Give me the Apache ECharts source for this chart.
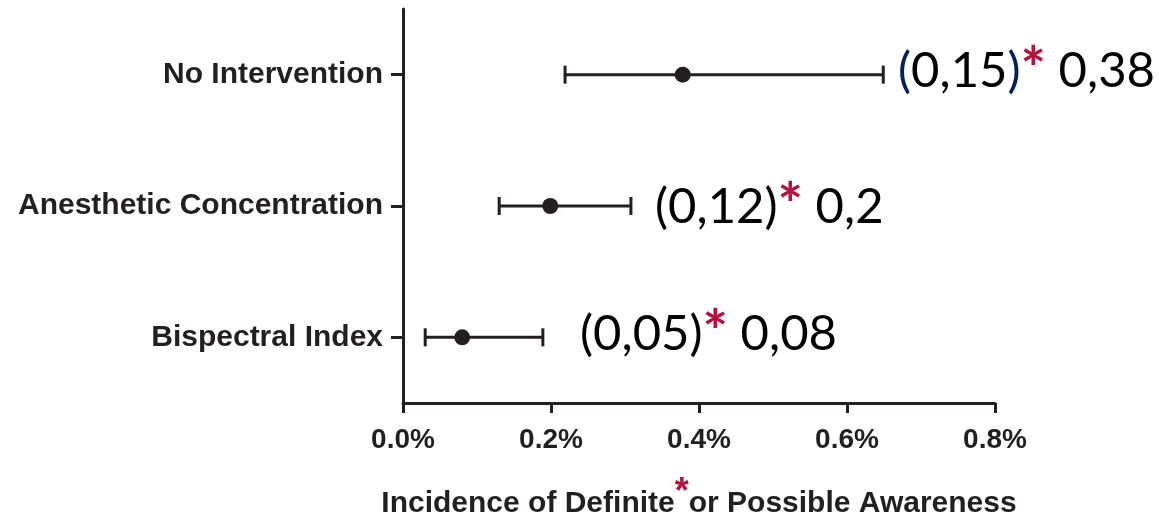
<!DOCTYPE html>
<html>
<head>
<meta charset="utf-8">
<script src="https://cdn.jsdelivr.net/npm/echarts@6/dist/echarts.min.js"></script>
<style>
html,body{margin:0;padding:0;background:#fff;}
#chart{width:1159px;height:521px;}
</style>
</head>
<body>
<div id="chart"></div>
<script>
// ---- data ----
const categories = ['No Intervention', 'Anesthetic Concentration', 'Bispectral Index'];
const pointValues = [0.378, 0.199, 0.080];   // incidence, %
const lowerValues = [0.219, 0.130, 0.030];   // lower CI, %
const upperValues = [0.649, 0.308, 0.189];   // upper CI, %
const xTicks = [0.0, 0.2, 0.4, 0.6, 0.8];
const annotCI = ['0,15', '0,12', '0,05'];
const annotVal = ['0,38', '0,2', '0,08'];

const ink = '#231f20';
const navy = '#002060';
const crimson = '#b5123e';

const chart = echarts.init(document.getElementById('chart'), null, {renderer: 'canvas'});

const errData = categories.map((c, i) => [lowerValues[i], upperValues[i], i]);
const ptData = categories.map((c, i) => [pointValues[i], i]);

// annotation layout (text only)
const annotPos = [
  {left: 898, y: 71, blue: true},
  {left: 655, y: 207, blue: false},
  {left: 580, y: 334, blue: false}
];

const graphics = annotPos.map((p, i) => ({
  type: 'text',
  left: p.left,
  top: p.y - 30,
  style: {
    text: (p.blue ? '{b|(}' : '{k|(}') + '{k|' + annotCI[i] + '}' + (p.blue ? '{b|)}' : '{k|)}') + '{s|*}{k| ' + annotVal[i] + '}',
    rich: {
      k: {fill: '#000', fontSize: 49, fontFamily: 'Lato', lineHeight: 60},
      b: {fill: navy, fontSize: 49, fontFamily: 'Lato', lineHeight: 60},
      s: {fill: crimson, fontSize: 60, fontWeight: 'bold', fontFamily: 'Lato', lineHeight: 60}
    }
  }
}));

chart.setOption({
  animation: false,
  backgroundColor: '#fff',
  grid: {left: 403, right: 164, top: 9, bottom: 118, containLabel: false, outerBoundsMode: 'none'},
  xAxis: {
    type: 'value',
    min: xTicks[0],
    max: xTicks[xTicks.length - 1],
    interval: 0.2,
    splitLine: {show: false},
    axisLine: {show: true, lineStyle: {color: ink, width: 3}},
    axisTick: {show: true, length: 10, lineStyle: {color: ink, width: 3}},
    axisLabel: {
      color: ink, fontSize: 28, fontWeight: 'bold', fontFamily: 'Liberation Sans', margin: 23,
      formatter: v => v.toFixed(1) + '%'
    },
    name: 'Incidence of Definite{a|*}or Possible Awareness',
    nameLocation: 'middle',
    nameGap: 72,
    nameTextStyle: {
      color: ink, fontSize: 30, fontWeight: 'bold', fontFamily: 'Liberation Sans',
      rich: {
        a: {color: crimson, fontSize: 36, fontWeight: 'bold', fontFamily: 'Liberation Sans', padding: [0, 0, 22, 0]}
      }
    }
  },
  yAxis: {
    type: 'category',
    data: categories,
    inverse: true,
    axisLine: {show: true, lineStyle: {color: ink, width: 3}},
    axisTick: {show: true, alignWithLabel: true, length: 12, lineStyle: {color: ink, width: 3}},
    axisLabel: {color: ink, fontSize: 30, fontWeight: 'bold', fontFamily: 'Liberation Sans', margin: 20},
    splitLine: {show: false}
  },
  graphic: graphics,
  series: [
    {
      type: 'custom',
      data: errData,
      renderItem: function (params, api) {
        const y = api.value(2);
        const p1 = api.coord([api.value(0), y]);
        const p2 = api.coord([api.value(1), y]);
        const h = 9;
        const st = {stroke: ink, lineWidth: 3, fill: null};
        return {
          type: 'group',
          children: [
            {type: 'line', shape: {x1: p1[0], y1: p1[1], x2: p2[0], y2: p2[1]}, style: st},
            {type: 'line', shape: {x1: p1[0], y1: p1[1] - h, x2: p1[0], y2: p1[1] + h}, style: st},
            {type: 'line', shape: {x1: p2[0], y1: p2[1] - h, x2: p2[0], y2: p2[1] + h}, style: st}
          ]
        };
      },
      z: 2
    },
    {
      type: 'scatter',
      data: ptData,
      symbol: 'circle',
      symbolSize: 16,
      itemStyle: {color: ink, opacity: 1},
      z: 3
    }
  ]
});
</script>
</body>
</html>
